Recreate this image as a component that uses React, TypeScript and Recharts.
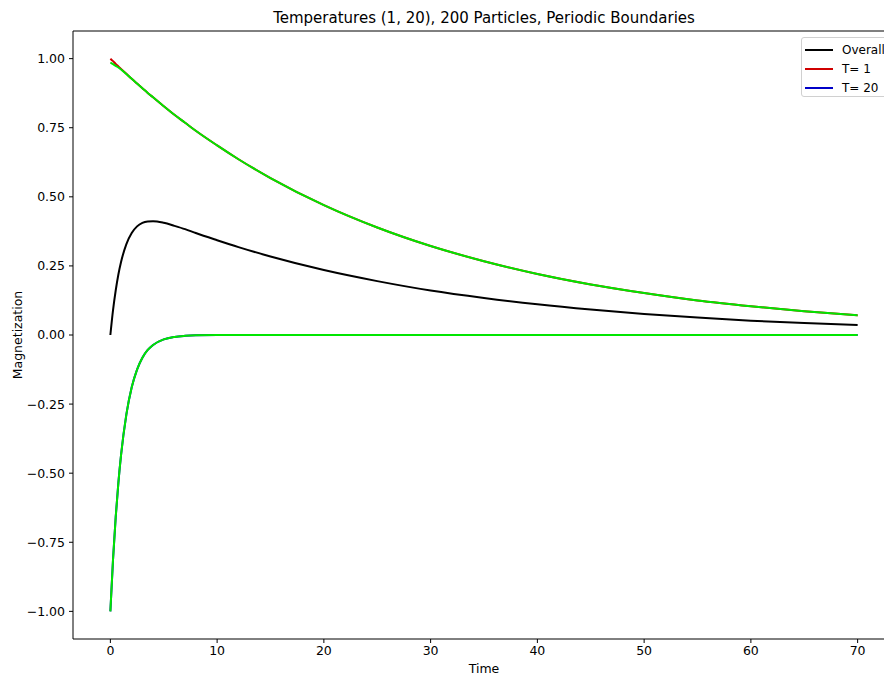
import React from 'react';
import { LineChart, Line, XAxis, YAxis, ReferenceLine } from 'recharts';

// sample times (denser near t=0 where curves bend fast)
const time = [0, 0.25, 0.5, 0.75, 1, 1.5, 2, 2.5, 3, 3.5, 4, 5, 6, 7, 8, 10, 12, 15, 20, 25, 30, 35, 40, 45, 50, 55, 60, 65, 70];

const overall = [0.0, 0.09, 0.161, 0.219, 0.264, 0.329, 0.369, 0.393, 0.406, 0.411, 0.412, 0.406, 0.395, 0.383, 0.369, 0.343, 0.318, 0.284, 0.235, 0.195, 0.161, 0.134, 0.111, 0.092, 0.076, 0.063, 0.052, 0.043, 0.036];
const tempLow = [1.0, 0.991, 0.981, 0.972, 0.963, 0.945, 0.927, 0.91, 0.893, 0.876, 0.86, 0.828, 0.797, 0.768, 0.739, 0.686, 0.636, 0.568, 0.47, 0.389, 0.322, 0.267, 0.221, 0.183, 0.152, 0.125, 0.104, 0.086, 0.071];
const tempHigh = [-1.0, -0.812, -0.659, -0.535, -0.435, -0.287, -0.189, -0.125, -0.082, -0.054, -0.036, -0.016, -0.007, -0.003, -0.001, 0, 0, 0, 0, 0, 0, 0, 0, 0, 0, 0, 0, 0, 0];
const fitLow = [0.986, 0.98, 0.974, 0.968, 0.961, 0.944, 0.927, 0.91, 0.893, 0.876, 0.86, 0.828, 0.797, 0.768, 0.739, 0.686, 0.636, 0.568, 0.47, 0.389, 0.322, 0.267, 0.221, 0.183, 0.152, 0.125, 0.104, 0.086, 0.071];
const fitHigh = [-1.0, -0.812, -0.659, -0.535, -0.435, -0.287, -0.189, -0.125, -0.082, -0.054, -0.036, -0.016, -0.007, -0.003, -0.001, 0, 0, 0, 0, 0, 0, 0, 0, 0, 0, 0, 0, 0, 0];

const xTicks = [0, 10, 20, 30, 40, 50, 60, 70];
const yTicks = [-1, -0.75, -0.5, -0.25, 0, 0.25, 0.5, 0.75, 1];

const rows = time.map((t, i) => ({
    t,
    overall: overall[i],
    low: tempLow[i],
    high: tempHigh[i],
    fitLow: fitLow[i],
    fitHigh: fitHigh[i],
}));

const FONT = '"DejaVu Sans", sans-serif';

const legendItems = [
    { label: 'Overall', color: '#000000' },
    { label: 'T= 1', color: '#d00000' },
    { label: 'T= 20', color: '#0000c8' },
];

const fmtY = (v: number) => (v < 0 ? '\u2212' + Math.abs(v).toFixed(2) : v.toFixed(2));

const renderYLabel = () => (
    <text x={17} y={335} transform="rotate(-90, 17, 335)" textAnchor="middle" dominantBaseline="central"
          fontFamily={FONT} fontSize={12.5} fill="#000">Magnetization</text>
);

export default function App() {
    return (
        <div style={{ position: 'fixed', left: 0, top: 0, width: 884, height: 677, overflow: 'hidden', background: '#fff' }}>
            <div style={{ position: 'absolute', left: 484, top: 11, transform: 'translateX(-50%)', whiteSpace: 'nowrap',
                          fontFamily: FONT, fontSize: 15, lineHeight: '15px', color: '#000' }}>
                Temperatures (1, 20), 200 Particles, Periodic Boundaries
            </div>
            <LineChart width={910} height={677} data={rows} margin={{ top: 31, right: 15, bottom: 0, left: 0 }}>
                <XAxis dataKey="t" type="number" domain={[-3.5, 73.5]} ticks={xTicks} height={38}
                       stroke="#000" tickSize={4} tickMargin={3} interval={0} allowDataOverflow
                       tick={{ fill: '#000', fontFamily: FONT, fontSize: 12.5 }}
                       label={{ value: 'Time', position: 'insideBottom', offset: 4, fill: '#000', fontFamily: FONT, fontSize: 12.5 }} />
                <YAxis type="number" domain={[-1.1, 1.1]} ticks={yTicks} width={73} stroke="#000"
                       tickSize={4} tickMargin={4} interval={0} allowDataOverflow tickFormatter={fmtY}
                       tick={{ fill: '#000', fontFamily: FONT, fontSize: 12.5 }}
                       label={{ content: renderYLabel }} />
                <ReferenceLine y={1.1} stroke="#000" strokeWidth={1} />
                <Line type="monotone" dataKey="overall" stroke="#000000" strokeWidth={2} dot={false} isAnimationActive={false} />
                <Line type="monotone" dataKey="low" stroke="#d00000" strokeWidth={2} dot={false} isAnimationActive={false} />
                <Line type="monotone" dataKey="high" stroke="#0000c8" strokeWidth={2} dot={false} isAnimationActive={false} />
                <Line type="monotone" dataKey="fitLow" stroke="#00e600" strokeWidth={2} dot={false} isAnimationActive={false} />
                <Line type="monotone" dataKey="fitHigh" stroke="#00e600" strokeWidth={2} dot={false} isAnimationActive={false} />
            </LineChart>
            <div style={{
                position: 'absolute', left: 801, top: 37, width: 100, height: 60, boxSizing: 'border-box',
                border: '1px solid #d0d0d0', borderRadius: 3, background: 'rgba(255,255,255,0.8)',
                fontFamily: FONT, fontSize: 12, paddingTop: 2,
            }}>
                {legendItems.map((it) => (
                    <div key={it.label} style={{ display: 'flex', alignItems: 'center', height: 19 }}>
                        <div style={{ width: 28, height: 2, background: it.color, marginLeft: 3, marginRight: 9 }} />
                        <span style={{ color: '#000' }}>{it.label}</span>
                    </div>
                ))}
            </div>
        </div>
    );
}
